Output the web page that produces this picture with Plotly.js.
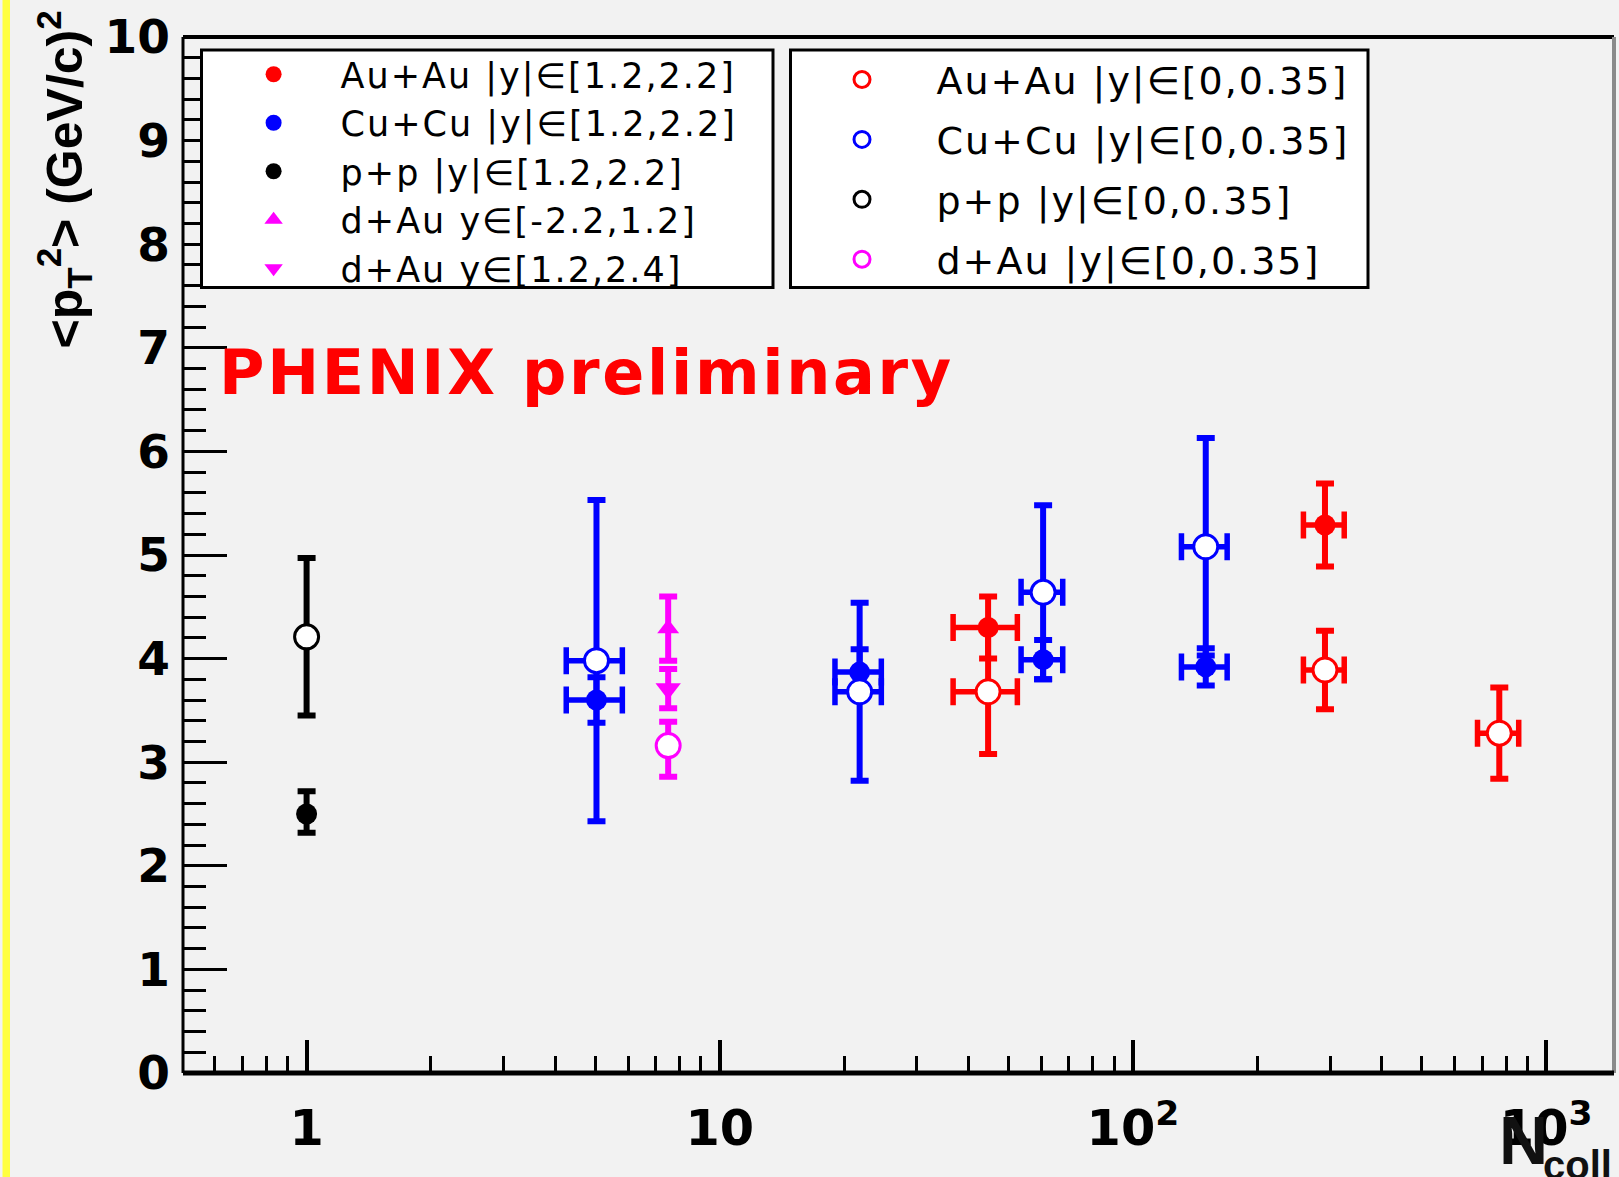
<!DOCTYPE html>
<html><head><meta charset="utf-8">
<script src="https://cdn.plot.ly/plotly-3.0.1.min.js"></script>
<style>
html,body{margin:0;padding:0;background:#f2f2f2;}
#chart{width:1619px;height:1177px;}
</style>
</head><body><div id="chart"></div>
<script>
// ---------- data ----------
// forward rapidity |y| in [1.2,2.2] (filled markers)
const auauFwdNcoll = [44.6, 291.5];
const auauFwdPt2 = [4.30, 5.29];
const auauFwdErr = [0.30, 0.40];
const auauNcollErr = [7.9, 33];

const cucuNcoll = [5.03, 21.8, 60.6, 150];
const cucuNcollErr = [0.78, 2.8, 7.0, 19];
const cucuFwdPt2 = [3.60, 3.87, 3.99, 3.92];
const cucuFwdErr = [0.22, 0.22, 0.19, 0.18];

const ppNcoll = [1];
const ppFwdPt2 = [2.50];
const ppFwdErrPlus = [0.22];
const ppFwdErrMinus = [0.18];

const dauNcoll = [7.5];
const dauBwdPt2 = [4.29];      // y in [-2.2,1.2]
const dauBwdErr = [0.31];
const dauFwdPt2 = [3.71];      // y in [1.2,2.4]
const dauFwdErr = [0.19];

// mid rapidity |y| in [0,0.35] (open markers)
const auauMidNcoll = [44.6, 291.5, 770];
const auauMidNcollErr = [7.9, 33, 88];
const auauMidPt2 = [3.68, 3.89, 3.28];
const auauMidErr = [0.60, 0.38, 0.44];

const cucuMidPt2 = [3.98, 3.68, 4.64, 5.08];
const cucuMidErr = [1.55, 0.86, 0.84, 1.05];

const ppMidPt2 = [4.21];
const ppMidErr = [0.76];

const dauMidPt2 = [3.16];
const dauMidErrPlus = [0.23];
const dauMidErrMinus = [0.30];

const legendNames1 = ['Au+Au |y|\u2208[1.2,2.2]', 'Cu+Cu |y|\u2208[1.2,2.2]', 'p+p |y|\u2208[1.2,2.2]',
                      'd+Au y\u2208[-2.2,1.2]', 'd+Au y\u2208[1.2,2.4]'];
const legendNames2 = ['Au+Au |y|\u2208[0,0.35]', 'Cu+Cu |y|\u2208[0,0.35]', 'p+p |y|\u2208[0,0.35]',
                      'd+Au |y|\u2208[0,0.35]'];

const yTickVals = [0,1,2,3,4,5,6,7,8,9,10];

// ---------- styling ----------
const RED = '#ff0000', BLUE = '#0000ff', BLACK = '#000000', MAG = '#ff00ff';
const PL = 183, PR = 1614, PT = 37, PB = 1073;
const px = x => (x - PL) / (PR - PL);
const py = y => (PB - y) / (PB - PT);
const spaced = (s, ls) => '<span style="letter-spacing:' + ls + 'px">' + s + '</span>';

function ey(arr, color, minus) {
  const e = {type: 'data', array: arr, visible: true, color: color, thickness: 6, width: 9};
  if (minus) { e.symmetric = false; e.arrayminus = minus; }
  return e;
}
function ex(arr, color) {
  return {type: 'data', array: arr, visible: true, color: color, thickness: 5.5, width: 13.5};
}
function filled(name, x, y, errY, errX, color, symbol, size, errMinus) {
  const t = {type: 'scatter', mode: 'markers', name: spaced(name, 2), x: x, y: y,
    marker: {color: color, symbol: symbol, size: size},
    error_y: ey(errY, color, errMinus), legend: 'legend'};
  if (errX) t.error_x = ex(errX, color);
  return t;
}
function open(name, x, y, errY, errX, color, errMinus, grp) {
  const t = {type: 'scatter', mode: 'markers', name: spaced(name, 2), x: x, y: y,
    marker: {color: '#ffffff', symbol: 'circle', size: 24, line: {color: color, width: 3}},
    error_y: ey(errY, color, errMinus), legend: 'legend2', legendgroup: grp};
  if (errX) t.error_x = ex(errX, color);
  return t;
}

const traces = [
  filled(legendNames1[0], auauFwdNcoll, auauFwdPt2, auauFwdErr, auauNcollErr, RED, 'circle', 21),
  filled(legendNames1[1], cucuNcoll, cucuFwdPt2, cucuFwdErr, cucuNcollErr, BLUE, 'circle', 21),
  filled(legendNames1[2], ppNcoll, ppFwdPt2, ppFwdErrPlus, null, BLACK, 'circle', 21, ppFwdErrMinus),
  filled(legendNames1[3], dauNcoll, dauBwdPt2, dauBwdErr, null, MAG, 'triangle-up', 19),
  filled(legendNames1[4], dauNcoll, dauFwdPt2, dauFwdErr, null, MAG, 'triangle-down', 22),
  open(legendNames2[0], auauMidNcoll, auauMidPt2, auauMidErr, auauMidNcollErr, RED, null, 'g1'),
  open(legendNames2[1], cucuNcoll, cucuMidPt2, cucuMidErr, cucuNcollErr, BLUE, null, 'g2'),
  open(legendNames2[2], ppNcoll, ppMidPt2, ppMidErr, null, BLACK, null, 'g3'),
  open(legendNames2[3], dauNcoll, dauMidPt2, dauMidErrPlus, null, MAG, dauMidErrMinus, 'g4')
];

const tickFont = {family: 'DejaVu Sans', size: 47, color: '#000', weight: 'bold'};

const layout = {
  width: 1619, height: 1177,
  paper_bgcolor: '#f2f2f2', plot_bgcolor: '#f2f2f2',
  margin: {l: PL, r: 1619 - PR, t: PT, b: 1177 - PB, pad: 0},
  showlegend: true,
  xaxis: {
    type: 'log', range: [-0.2991, 3.1641], autorange: false,
    showgrid: false, zeroline: false, showline: false,
    tickmode: 'linear', tick0: 0, dtick: 1, exponentformat: 'power',
    ticks: 'inside', ticklen: 33, tickwidth: 4, tickcolor: '#000',
    tickfont: {family: 'DejaVu Sans', size: 39.5, color: '#000', weight: 'bold'},
    ticklabelstandoff: 22,
    minor: {dtick: 'D1', ticks: 'inside', ticklen: 17, tickwidth: 3, tickcolor: '#000', showgrid: false},
    automargin: false
  },
  yaxis: {
    range: [0, 10], autorange: false,
    showgrid: false, zeroline: false, showline: false,
    tickmode: 'array', tickvals: yTickVals, ticktext: yTickVals.map(String),
    ticks: 'inside', ticklen: 44, tickwidth: 3, tickcolor: '#000',
    tickfont: tickFont, ticklabelstandoff: 12,
    minor: {dtick: 0.2, ticks: 'inside', ticklen: 23, tickwidth: 3, tickcolor: '#000', showgrid: false},
    automargin: false
  },
  legend: {
    x: px(206.6), y: py(45), xanchor: 'left', yanchor: 'top',
    bgcolor: 'rgba(0,0,0,0)', borderwidth: 0, itemwidth: 124,
    font: {family: 'DejaVu Sans', size: 35, color: '#000'},
    traceorder: 'normal', itemclick: false, itemdoubleclick: false
  },
  legend2: {
    x: px(787.5), y: py(48.3), xanchor: 'left', yanchor: 'top',
    bgcolor: 'rgba(0,0,0,0)', borderwidth: 0, itemwidth: 139,
    font: {family: 'DejaVu Sans', size: 38, color: '#000'},
    traceorder: 'grouped', tracegroupgap: 7.5, itemclick: false, itemdoubleclick: false
  },
  shapes: [
    // yellow strip at left edge
    {type: 'rect', xref: 'paper', yref: 'paper', x0: px(2.5), x1: px(10), y0: py(1177), y1: py(0),
     fillcolor: '#ffff40', line: {width: 0}, layer: 'below'},
    // legend boxes
    {type: 'rect', xref: 'paper', yref: 'paper', x0: px(201.5), x1: px(773), y0: py(287.5), y1: py(50),
     fillcolor: '#ffffff', line: {color: '#000', width: 3}, layer: 'above'},
    {type: 'rect', xref: 'paper', yref: 'paper', x0: px(790.5), x1: px(1368), y0: py(287.5), y1: py(50),
     fillcolor: '#ffffff', line: {color: '#000', width: 3}, layer: 'above'},
    // frame
    {type: 'line', xref: 'paper', yref: 'paper', x0: 0, x1: 1, y0: 1, y1: 1, line: {color: '#000', width: 4}, layer: 'above'},
    {type: 'line', xref: 'paper', yref: 'paper', x0: 1, x1: 1, y0: 0, y1: 1, line: {color: '#8a8a8a', width: 4}, layer: 'above'},
    {type: 'line', xref: 'paper', yref: 'paper', x0: 0, x1: 0, y0: 0, y1: 1, line: {color: '#000', width: 3}, layer: 'above'},
    {type: 'line', xref: 'paper', yref: 'paper', x0: 0, x1: 1, y0: 0, y1: 0, line: {color: '#000', width: 5}, layer: 'above'}
  ],
  annotations: [
    {text: spaced('PHENIX preliminary', 2.7), xref: 'paper', yref: 'paper', x: px(217), y: py(372.5),
     xanchor: 'left', yanchor: 'middle', align: 'left', showarrow: false,
     font: {family: 'DejaVu Sans', size: 62, color: '#ff0000', weight: 'bold'}},
    {text: '&lt;p<sub>T</sub><sup>2</sup>&gt; (GeV/c)<sup>2</sup>', xref: 'paper', yref: 'paper',
     x: px(64), y: py(179.5), xanchor: 'center', yanchor: 'middle', textangle: -90, showarrow: false,
     font: {family: 'Liberation Sans', size: 50, color: '#000', weight: 'bold'}},
    {text: 'N', xref: 'paper', yref: 'paper', x: px(1497), y: py(1100),
     xanchor: 'left', yanchor: 'top', showarrow: false,
     font: {family: 'Liberation Sans', size: 68, color: '#111', weight: 'bold'}},
    {text: 'coll', xref: 'paper', yref: 'paper', x: px(1541), y: py(1141),
     xanchor: 'left', yanchor: 'top', showarrow: false,
     font: {family: 'Liberation Sans', size: 40, color: '#111', weight: 'bold'}}
  ]
};

Plotly.newPlot('chart', traces, layout, {displayModeBar: false, responsive: false});
</script></body></html>
